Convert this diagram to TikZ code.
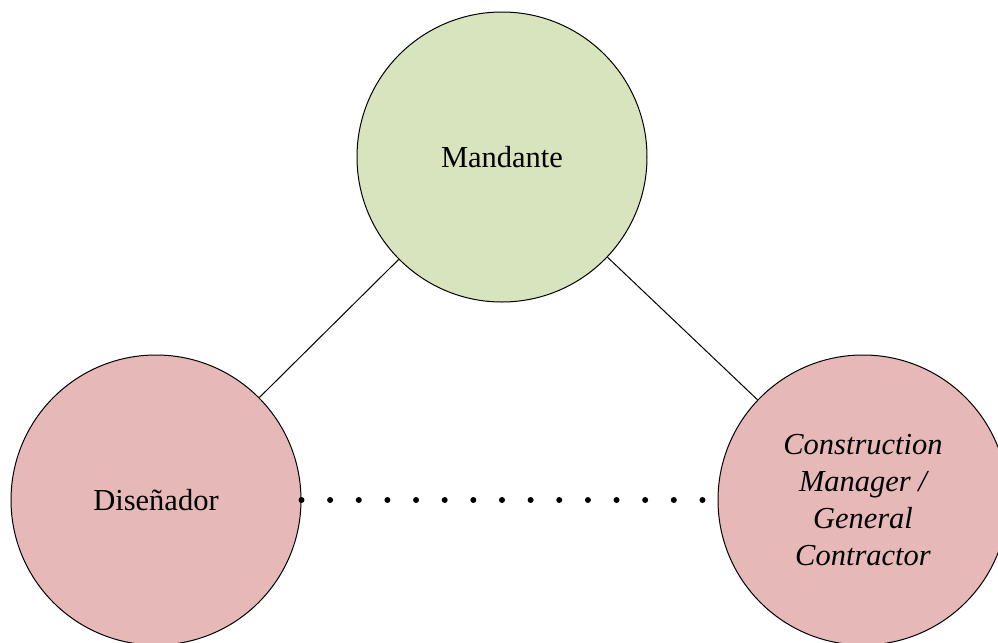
\documentclass[tikz,border=0pt]{standalone}
\usepackage{fontspec}
\setmainfont{Liberation Serif}
\definecolor{mandfill}{HTML}{D7E4BD}
\definecolor{partyfill}{HTML}{E6B9B8}
\begin{document}
\begin{tikzpicture}[x=0.5pt,y=-0.5pt,
  party/.style={circle,draw=black,line width=0.5pt,minimum size=145pt,inner sep=0pt,
    font=\fontsize{15.25}{18.5}\selectfont,align=center},
  link/.style={draw=black,line width=0.5pt},
  dotlink/.style={draw=black,line width=3pt,line cap=round,dash pattern=on 0pt off 14.32pt}]
\useasboundingbox (0,0) rectangle (998,643);
\node[party,fill=mandfill] (mand) at (502,157) {Mandante};
\node[party,fill=partyfill] (dis) at (156,500) {Diseñador};
\node[party,fill=partyfill] (cm) at (863,500) {\itshape Construction\\\itshape Manager /\\\itshape General\\\itshape Contractor};
\draw[link] (mand) -- (dis);
\draw[link] (mand) -- (cm);
\draw[dotlink] (dis.east) -- (cm.west);
\end{tikzpicture}
\end{document}
